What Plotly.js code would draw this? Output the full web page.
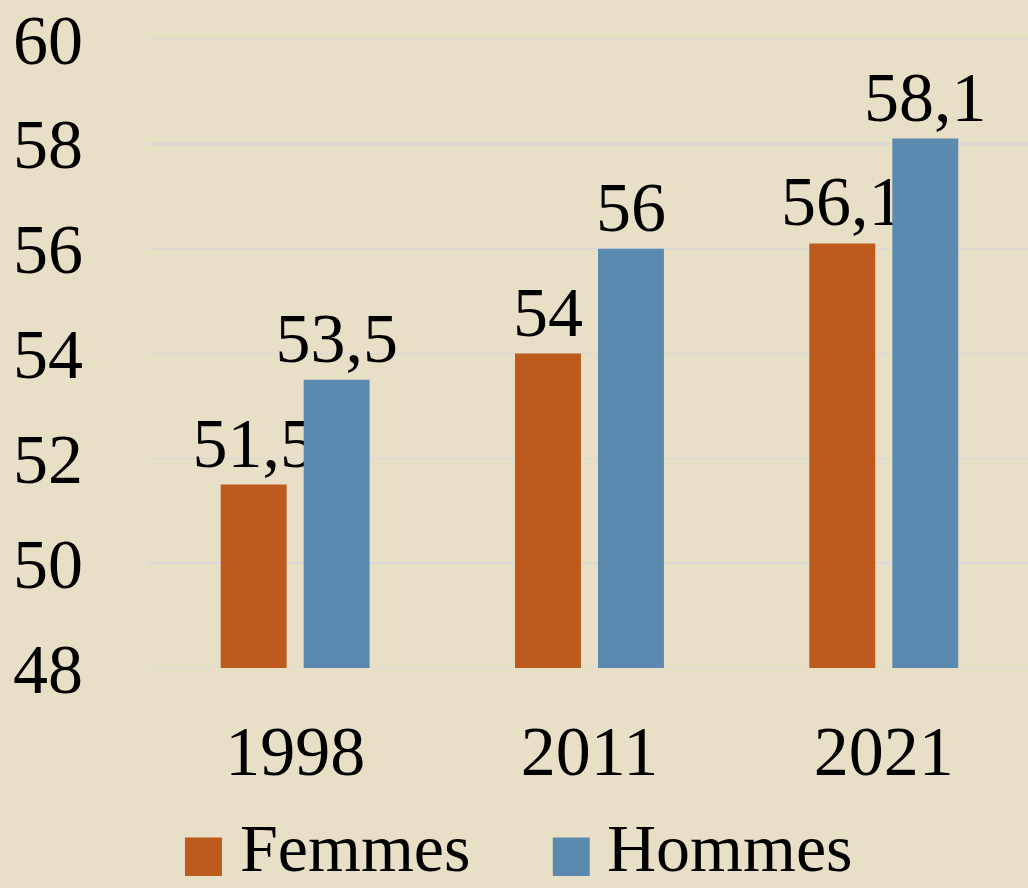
<!DOCTYPE html>
<html>
<head>
<meta charset="utf-8">
<script src="https://cdn.plot.ly/plotly-3.0.1.min.js"></script>
<style>html,body{margin:0;padding:0;background:#E7DFC6;}</style>
</head>
<body>
<div id="chart" style="width:1028px;height:888px;"></div>
<script>
const categories = ['1998', '2011', '2021'];
const seriesNames = ['Femmes', 'Hommes'];
const femmes = [51.5, 54, 56.1];
const hommes = [53.5, 56, 58.1];
const yTicks = [48, 50, 52, 54, 56, 58, 60];

const colors = ['#BD5A1D', '#5B8AAE'];
const FONT = 'Liberation Serif, Times New Roman, serif';
const FS = 70;
const fmt = v => String(v).replace('.', ',');

function barTrace(name, vals, color, offset) {
  return {
    type: 'bar', name: name, x: categories, y: vals,
    marker: {color: color},
    width: 0.224, offset: offset,
    text: vals.map(fmt), textposition: 'outside',
    textfont: {family: FONT, size: FS, color: '#000'},
    constraintext: 'none', cliponaxis: false,
    showlegend: false, hoverinfo: 'x+y'
  };
}

const data = [
  barTrace(seriesNames[0], femmes, colors[0], -0.253),
  barTrace(seriesNames[1], hommes, colors[1], 0.029)
];

// edge gridlines (first/last tick) drawn as shapes, below the bars
const edgeGrid = [yTicks[0], yTicks[yTicks.length - 1]].map(v => ({
  type: 'line', xref: 'paper', yref: 'y', x0: 0, x1: 1, y0: v, y1: v,
  line: {color: '#D9D9D9', width: 1.5}, layer: 'below'
}));

// custom legend (large squares)
const legendX = [0.042, 0.46];
const legendShapes = seriesNames.map((n, i) => ({
  type: 'rect', xref: 'paper', yref: 'paper',
  x0: legendX[i], x1: legendX[i] + 0.042,
  y0: -0.3307, y1: -0.2695,
  fillcolor: colors[i], line: {width: 0}
}));
const annotations = seriesNames.map((n, i) => ({
  xref: 'paper', yref: 'paper', x: legendX[i] + 0.061, y: -0.3475,
  xanchor: 'left', yanchor: 'bottom', showarrow: false, borderpad: 0,
  text: n, font: {family: FONT, size: 68, color: '#000'}
}));

const layout = {
  width: 1028, height: 888,
  paper_bgcolor: '#E7DFC6', plot_bgcolor: '#E7DFC6',
  margin: {l: 148, r: 0, t: 39, b: 220},
  font: {family: FONT, color: '#000'},
  separators: ', ',
  barmode: 'group',
  showlegend: false,
  xaxis: {
    type: 'category', range: [-0.5, 2.49],
    showgrid: false, zeroline: false, showline: false, ticks: '',
    tickfont: {family: FONT, size: FS, color: '#000'},
    ticklabelstandoff: 36
  },
  yaxis: {
    range: [48, 60], tickvals: yTicks, ticktext: yTicks.map(String),
    showgrid: true, gridcolor: '#D9D9D9', gridwidth: 1.5,
    zeroline: false, showline: false, ticks: '',
    tickfont: {family: FONT, size: FS, color: '#000'},
    ticklabelstandoff: 64
  },
  shapes: edgeGrid.concat(legendShapes),
  annotations: annotations
};

Plotly.newPlot('chart', data, layout, {displayModeBar: false, staticPlot: true});
</script>
</body>
</html>
